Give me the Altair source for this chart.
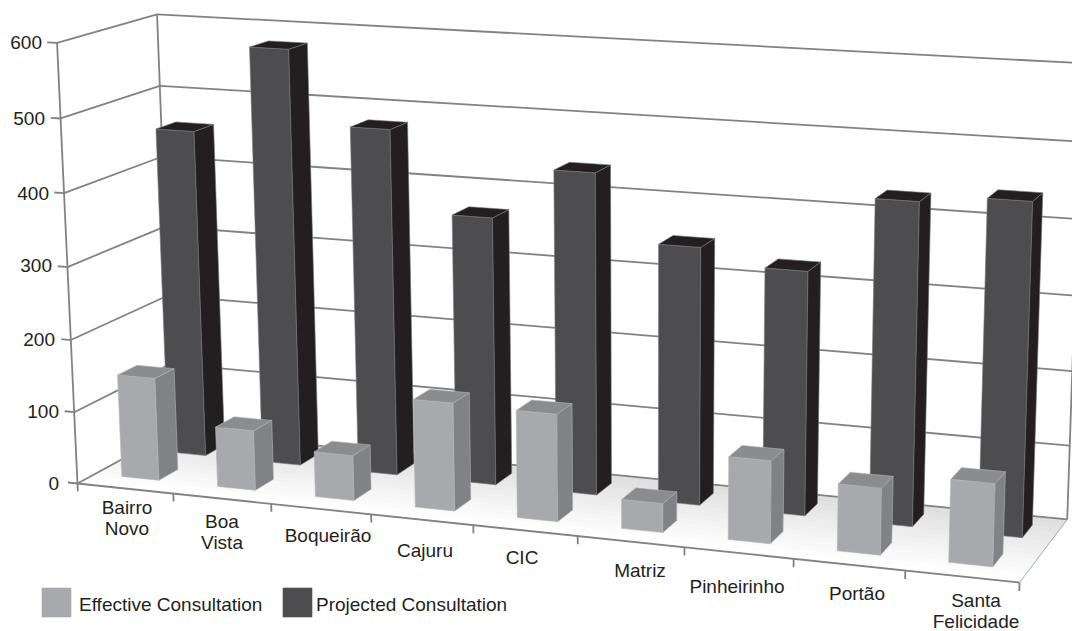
import numpy as np
import pandas as pd
import altair as alt

categories = [["Bairro", "Novo"], ["Boa", "Vista"], ["Boqueirão"], ["Cajuru"], ["CIC"],
              ["Matriz"], ["Pinheirinho"], ["Portão"], ["Santa", "Felicidade"]]
effective = [143, 83, 62, 147, 145, 39, 110, 88, 108]
projected = [458, 578, 478, 368, 438, 349, 328, 429, 439]
series_names = ["Effective Consultation", "Projected Consultation"]
value_ticks = [0, 100, 200, 300, 400, 500, 600]
# anchor pixels of the value labels and category labels
value_label_pos = [(59, 484), (59, 412), (55, 340), (52, 266), (49, 194), (45, 119), (42, 43)]
cat_label_pos = [(127, 508), (222, 522), (328, 536), (425, 551), (522, 558), (640, 571), (737, 587), (857, 594), (976, 601)]

LIGHT, LIGHT_SIDE, LIGHT_TOP = "#a7a9ac", "#808285", "#8a8c8e"
DARK, DARK_SIDE, DARK_TOP = "#4d4d4f", "#231f20", "#231f20"
GRID = "#808285"
TEXT = "#231f20"
FONT = "Liberation Sans"

# camera calibration: (category, value, depth) -> picture pixel
calib = [((0, 0, 0), (78, 483)), ((0, 100, 0), (74, 412)), ((0, 600, 0), (57, 43)),
         ((1, 0, 0), (173, 494)), ((2, 0, 0), (271, 505)), ((8, 0, 0), (905, 570)), ((9, 0, 0), (1020, 582)),
         ((0, 0, 1), (173, 431)), ((0, 600, 1), (157, 14)), ((0, 500, 1), (160, 86)),
         ((9, 0, 1), (1067, 520)), ((9, 600, 1), (1082, 63)), ((9, 500, 1), (1081, 142))]
A = []
for (X, Y, Z), (u, v) in calib:
    p = [X, Y / 100, Z, 1]
    A.append(p + [0, 0, 0, 0] + [-u * c for c in p])
    A.append([0, 0, 0, 0] + p + [-v * c for c in p])
P = np.linalg.svd(np.array(A, float))[2][-1].reshape(3, 4)


def proj(X, Y, Z):
    h = P @ np.array([X, Y / 100, Z, 1.0])
    return float(h[0] / h[2]), float(h[1] / h[2])


polys, lines, poly_id, line_id = [], [], 0, 0


def add_poly(points, fill, stroke):
    global poly_id
    poly_id += 1
    for i, (x, y) in enumerate(list(points) + [points[0]]):
        polys.append(dict(poly=poly_id, vert=i, x=x, y=y, fill=fill, stroke=stroke))


def add_line(a, b, width=1.8, color=GRID):
    global line_id
    line_id += 1
    for i, (x, y) in enumerate((a, b)):
        lines.append(dict(line=line_id, vert=i, x=x, y=y, w=width, c=color))


# floor: nested strips make the depth gradient
steps = 14
for k in range(steps):
    z = k / steps
    g = int(255 - 32 * (k / (steps - 1)) ** 1.1)
    col = f"#{g:02x}{g:02x}{g + 1 if g < 255 else g:02x}"
    add_poly([proj(0, 0, z), proj(9, 0, z), proj(9, 0, 1), proj(0, 0, 1)], col, col)


def bar(i, value, x0, x1, z0, z1, face, side, top, edge):
    add_poly([proj(i + x0, 0, z0), proj(i + x1, 0, z0), proj(i + x1, value, z0), proj(i + x0, value, z0)], face, edge)
    add_poly([proj(i + x1, 0, z0), proj(i + x1, 0, z1), proj(i + x1, value, z1), proj(i + x1, value, z0)], side, edge)
    add_poly([proj(i + x0, value, z0), proj(i + x1, value, z0), proj(i + x1, value, z1), proj(i + x0, value, z1)], top, edge)


for i, v in enumerate(projected):
    s = 0.005 * i
    bar(i, v, 0.30 + s, 0.70 + s, 0.65, 0.86, DARK, DARK_SIDE, DARK_TOP, "#77787a")
for i, v in enumerate(effective):
    s = 0.002 * i
    bar(i, v, 0.28 + s, 0.67 + s, 0.18, 0.38, LIGHT, LIGHT_SIDE, LIGHT_TOP, "#b5b6b8")

# legend swatches
add_poly([(42, 588), (71, 588), (71, 617), (42, 617)], LIGHT, LIGHT)
add_poly([(283, 588), (312, 588), (312, 617), (283, 617)], DARK, DARK)

# walls, gridlines, axis ticks
for v in value_ticks:
    add_line(proj(0, v, 0), proj(0, v, 1))
    add_line(proj(0, v, 1), proj(9, v, 1))
    add_line(proj(-0.1, v, 0), proj(0, v, 0))
add_line(proj(0, 0, 0), proj(0, 600, 0))
add_line(proj(0, 0, 1), proj(0, 600, 1))
add_line(proj(9, 0, 1), proj(9, 600, 1))
add_line(proj(0, 0, 0), proj(9, 0, 0))
add_line(proj(9, 0, 0), proj(9, 0, 1), 1.0, "#9fb0b8")
for i in range(10):
    add_line(proj(i, 0, 0), proj(i, -11, 0))

# text
texts = []
for v, (x, y) in zip(value_ticks, value_label_pos):
    texts.append(dict(x=x, y=y, t=str(v), a="right"))
cat_texts = []
for lines_, (x, y) in zip(categories, cat_label_pos):
    for j, s in enumerate(lines_):
        cat_texts.append(dict(x=x, y=y + 21 * j, t=s))
leg_texts = [dict(x=79, y=605, t=series_names[0]), dict(x=316, y=605, t=series_names[1])]

xs = alt.Scale(domain=[8, 1072], range=[0, 1064], clamp=False)
ys = alt.Scale(domain=[8, 631], range=[0, 623], clamp=False)
X = alt.X("x:Q", scale=xs, axis=None)
Y = alt.Y("y:Q", scale=ys, axis=None)

df_lines = pd.DataFrame(lines)
df_polys = pd.DataFrame(polys)

grid_layer = alt.Chart(df_lines).mark_line(clip=False).encode(
    x=X, y=Y, order="vert:Q", detail="line:N",
    stroke=alt.Stroke("c:N", scale=None),
    strokeWidth=alt.StrokeWidth("w:Q", scale=None))
floor_df = df_polys[df_polys.poly <= steps]
bars_df = df_polys[df_polys.poly > steps]
floor_layer = alt.Chart(floor_df).mark_line(strokeWidth=0.5, clip=False).encode(
    x=X, y=Y, order="vert:Q", detail="poly:N",
    fill=alt.Fill("fill:N", scale=None), stroke=alt.Stroke("stroke:N", scale=None))
bar_layer = alt.Chart(bars_df).mark_line(strokeWidth=0.6, strokeJoin="round", clip=False).encode(
    x=X, y=Y, order="vert:Q", detail="poly:N",
    fill=alt.Fill("fill:N", scale=None), stroke=alt.Stroke("stroke:N", scale=None))
val_layer = alt.Chart(pd.DataFrame(texts)).mark_text(align="right", baseline="middle", fontSize=19, font=FONT, color=TEXT).encode(x=X, y=Y, text="t:N")
cat_layer = alt.Chart(pd.DataFrame(cat_texts)).mark_text(align="center", baseline="middle", fontSize=19, font=FONT, color=TEXT).encode(x=X, y=Y, text="t:N")
leg_layer = alt.Chart(pd.DataFrame(leg_texts)).mark_text(align="left", baseline="middle", fontSize=19, font=FONT, color=TEXT).encode(x=X, y=Y, text="t:N")

chart = alt.layer(floor_layer, grid_layer, bar_layer, val_layer, cat_layer, leg_layer).properties(
    width=1064, height=623, autosize=alt.AutoSizeParams(type="none"), padding=0,
    background="white"
).configure_view(stroke=None)
chart.save("out.html", embed_options={"renderer": "svg", "actions": False})
